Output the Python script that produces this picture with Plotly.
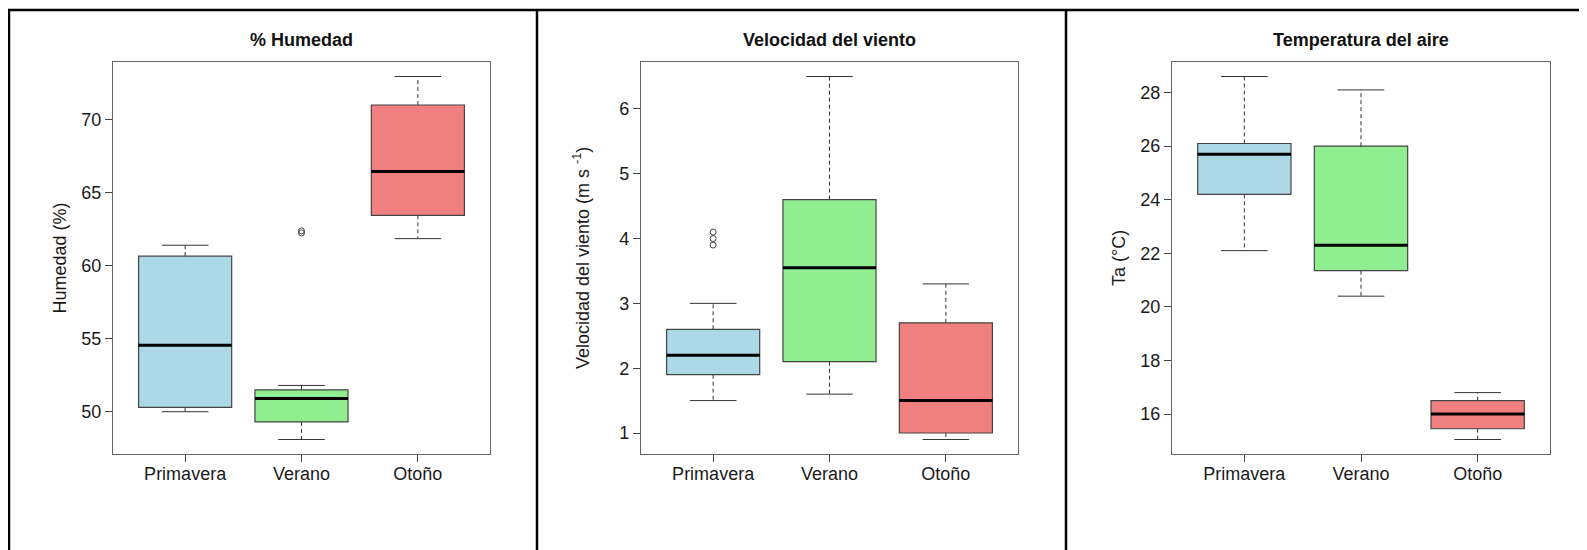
import plotly.graph_objects as go

# page body has an 8px margin; the figure is sized to fit inside the window
OFF = 8
W, H = 1587 - OFF, 550 - OFF

seasons = ["Primavera", "Verano", "Otoño"]
positions = [1, 2, 3]
fill_colors = ["#ADD8E6", "#90EE90", "#F08080"]

# % Humedad
hum_lower = [50.0, 48.1, 61.85]
hum_q1 = [50.3, 49.3, 63.45]
hum_median = [54.55, 50.9, 66.45]
hum_q3 = [60.65, 51.5, 71.0]
hum_upper = [61.4, 51.8, 72.95]
hum_outliers = [[], [62.38, 62.24], []]
hum_ticks = [50, 55, 60, 65, 70]

# Velocidad del viento
wind_lower = [1.5, 1.6, 0.9]
wind_q1 = [1.9, 2.1, 1.0]
wind_median = [2.2, 3.55, 1.5]
wind_q3 = [2.6, 4.6, 2.7]
wind_upper = [3.0, 6.5, 3.3]
wind_outliers = [[4.1, 4.0, 3.9], [], []]
wind_ticks = [1, 2, 3, 4, 5, 6]

# Temperatura del aire
ta_lower = [22.1, 20.4, 15.05]
ta_q1 = [24.2, 21.35, 15.45]
ta_median = [25.7, 22.3, 16.0]
ta_q3 = [26.1, 26.0, 16.5]
ta_upper = [28.6, 28.1, 16.8]
ta_outliers = [[], [], []]
ta_ticks = [16, 18, 20, 22, 24, 26, 28]

panels = [
    dict(title="% Humedad", ytitle="Humedad (%)",
         lower=hum_lower, q1=hum_q1, med=hum_median, q3=hum_q3, upper=hum_upper,
         out=hum_outliers, ticks=hum_ticks,
         xdom=(113, 490), ytitle_x=59.5),
    dict(title="Velocidad del viento", ytitle="Velocidad del viento (m s <sup>-1</sup>)",
         lower=wind_lower, q1=wind_q1, med=wind_median, q3=wind_q3, upper=wind_upper,
         out=wind_outliers, ticks=wind_ticks,
         xdom=(641, 1018), ytitle_x=582),
    dict(title="Temperatura del aire", ytitle="Ta (°C)",
         lower=ta_lower, q1=ta_q1, med=ta_median, q3=ta_q3, upper=ta_upper,
         out=ta_outliers, ticks=ta_ticks,
         xdom=(1172, 1550), ytitle_x=1119),
]


def px(v):
    return (v - OFF) / W


def py(v):
    return 1 - (v - OFF) / H


FONT = "Liberation Sans, Arial, sans-serif"
FS = 18
BOXW = 0.8
CAPW = 0.4
ytop, ybot = 62, 454

fig = go.Figure()
layout = dict(
    width=W, height=H, margin=dict(l=0, r=0, t=0, b=0),
    paper_bgcolor="white", plot_bgcolor="white", showlegend=False,
    font=dict(family=FONT, size=FS, color="#1a1a1a"),
    annotations=[], shapes=[], boxmode="overlay",
)

for i, p in enumerate(panels):
    n = i + 1
    xa = "x" if n == 1 else f"x{n}"
    ya = "y" if n == 1 else f"y{n}"
    for j, pos in enumerate(positions):
        fig.add_trace(go.Box(
            x=[pos], q1=[p["q1"][j]], median=[p["med"][j]], q3=[p["q3"][j]],
            lowerfence=[p["q1"][j]], upperfence=[p["q3"][j]],
            width=BOXW, fillcolor=fill_colors[j],
            line=dict(color="#444", width=1.2), boxpoints=False,
            xaxis=xa, yaxis=ya, hoverinfo="skip",
        ))
        # dashed whiskers
        fig.add_trace(go.Scatter(
            x=[pos, pos, None, pos, pos],
            y=[p["q3"][j], p["upper"][j], None, p["q1"][j], p["lower"][j]],
            mode="lines", line=dict(color="#333", width=1, dash="4px,3px"),
            xaxis=xa, yaxis=ya, hoverinfo="skip",
        ))
        # caps
        fig.add_trace(go.Scatter(
            x=[pos - CAPW / 2, pos + CAPW / 2, None, pos - CAPW / 2, pos + CAPW / 2],
            y=[p["upper"][j], p["upper"][j], None, p["lower"][j], p["lower"][j]],
            mode="lines", line=dict(color="#333", width=1),
            xaxis=xa, yaxis=ya, hoverinfo="skip",
        ))
        # median
        fig.add_trace(go.Scatter(
            x=[pos - BOXW / 2, pos + BOXW / 2],
            y=[p["med"][j], p["med"][j]],
            mode="lines", line=dict(color="black", width=3),
            xaxis=xa, yaxis=ya, hoverinfo="skip",
        ))
        if p["out"][j]:
            fig.add_trace(go.Scatter(
                x=[pos] * len(p["out"][j]), y=p["out"][j],
                mode="markers",
                marker=dict(symbol="circle-open", size=6, color="#444", line=dict(width=1)),
                xaxis=xa, yaxis=ya, hoverinfo="skip",
            ))
    allv = p["lower"] + p["upper"] + [v for o in p["out"] for v in o]
    lo, hi = min(allv), max(allv)
    pad = 0.04 * (hi - lo)
    x0, x1 = p["xdom"]
    axis_common = dict(showline=True, mirror=True, linecolor="#666", linewidth=1.2,
                       showgrid=False, zeroline=False, ticks="outside", ticklen=7,
                       tickcolor="#444", tickfont=dict(size=FS, family=FONT, color="#1a1a1a"))
    layout[f"xaxis{'' if n == 1 else n}"] = dict(
        domain=[px(x0), px(x1)], anchor=ya, range=[0.38, 3.62],
        tickvals=positions, ticktext=seasons, ticklabelstandoff=-4, **axis_common)
    layout[f"yaxis{'' if n == 1 else n}"] = dict(
        domain=[py(ybot), py(ytop)], anchor=xa, range=[lo - pad, hi + pad],
        tickvals=p["ticks"], ticktext=[str(t) for t in p["ticks"]], **axis_common)
    layout["annotations"].append(dict(
        text=f"<b>{p['title']}</b>", x=px((x0 + x1) / 2), y=py(40),
        xref="paper", yref="paper", showarrow=False, xanchor="center", yanchor="middle",
        font=dict(size=FS, family=FONT, color="#111")))
    layout["annotations"].append(dict(
        text=p["ytitle"], x=px(p["ytitle_x"]), y=py((ytop + ybot) / 2),
        xref="paper", yref="paper", showarrow=False, textangle=-90,
        xanchor="center", yanchor="middle",
        font=dict(size=FS, family=FONT, color="#1a1a1a")))

# outer panel frame lines
frame = dict(type="line", xref="paper", yref="paper", line=dict(color="black", width=2.5))
for xv in [9, 537, 1066]:
    layout["shapes"].append(dict(frame, x0=px(xv), x1=px(xv), y0=0, y1=py(10)))
layout["shapes"].append(dict(frame, x0=0, x1=1, y0=py(10), y1=py(10)))

fig.update_layout(**layout)
fig.write_html("out.html")
